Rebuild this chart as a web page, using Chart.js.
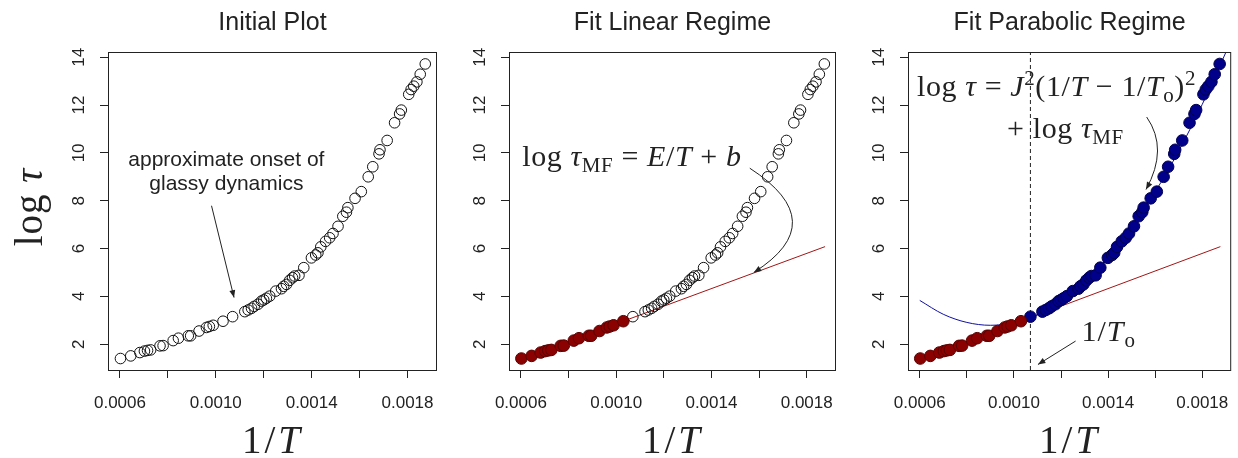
<!DOCTYPE html>
<html>
<head>
<meta charset="utf-8">
<script src="https://cdn.jsdelivr.net/npm/chart.js@4.4.0/dist/chart.umd.min.js"></script>
<style>
  html, body { margin: 0; padding: 0; background: #fff; }
  #wrap { position: relative; width: 1238px; height: 458px; overflow: hidden; }
  canvas { position: absolute; top: 0; }
</style>
</head>
<body>
<div id="wrap">
  <canvas id="c1" width="445" height="458" style="left:0px"></canvas>
  <canvas id="c2" width="400" height="458" style="left:445px"></canvas>
  <canvas id="c3" width="393" height="458" style="left:845px"></canvas>
</div>
<script>
const INV_T = [0.000602, 0.000645, 0.000683, 0.000702, 0.000715, 0.000728, 0.000767, 0.000780, 0.000822, 0.000844,
  0.000885, 0.000895, 0.000930, 0.000961, 0.000973, 0.000989, 0.001030, 0.001070, 0.001121, 0.001135,
  0.001149, 0.001160, 0.001176, 0.001190, 0.001200, 0.001211, 0.001225, 0.001250, 0.001274, 0.001283,
  0.001295, 0.001308, 0.001320, 0.001329, 0.001347, 0.001367, 0.001399, 0.001417, 0.001426, 0.001438,
  0.001458, 0.001475, 0.001489, 0.001510, 0.001530, 0.001545, 0.001551, 0.001581, 0.001607, 0.001636,
  0.001655, 0.001681, 0.001685, 0.001715, 0.001746, 0.001767, 0.001774, 0.001805, 0.001815, 0.001826,
  0.001839, 0.001853, 0.001874];
const LOG_TAU = [1.40, 1.51, 1.65, 1.71, 1.74, 1.76, 1.93, 1.94, 2.15, 2.25,
  2.35, 2.35, 2.55, 2.70, 2.74, 2.79, 2.96, 3.15, 3.36, 3.43,
  3.50, 3.58, 3.67, 3.80, 3.85, 3.92, 4.01, 4.22, 4.32, 4.42,
  4.50, 4.67, 4.78, 4.85, 4.88, 5.20, 5.61, 5.73, 5.82, 6.07,
  6.30, 6.45, 6.63, 6.93, 7.35, 7.52, 7.71, 8.10, 8.38, 9.00,
  9.42, 9.96, 10.13, 10.52, 11.26, 11.63, 11.79, 12.45, 12.65, 12.79,
  12.97, 13.29, 13.72];
const N_LINEAR = 17; // first points used for the linear fit

// fitted curves
const LIN_FIT_X = [0.0006, 0.001877];
const LIN_FIT_Y = [1.38, 6.08];
const PARA_X = [0.0006, 0.0007, 0.0008, 0.0009, 0.0010, 0.0011, 0.0012, 0.0013, 0.0014, 0.0015, 0.0016, 0.0017, 0.0018, 0.0019, 0.00192];
const PARA_Y = [3.83, 3.25, 2.91, 2.79, 2.90, 3.24, 3.80, 4.60, 5.63, 6.88, 8.37, 10.08, 12.03, 14.20, 14.66];
const T0_INV = 0.00107;

const X_TICK_LABELS = ['0.0006', '0.0010', '0.0014', '0.0018'];
const PANEL_TITLES = ['Initial Plot', 'Fit Linear Regime', 'Fit Parabolic Regime'];

const X_MIN = 0.00055, X_MAX = 0.001923;
const Y_MIN = 0.92, Y_MAX = 14.22;
const SANS = '"Liberation Sans", Arial, sans-serif';
const SERIF = '"Liberation Serif", "Times New Roman", serif';
const INK = '#222';
const RED = '#8B0000', BLUE = '#00008B';

const xy = (xs, ys) => xs.map((x, i) => ({ x, y: ys[i] }));
const pts = (from, to) => xy(INV_T.slice(from, to), LOG_TAU.slice(from, to));

function segFont(st, size) {
  const s = (st === 'sub' || st === 'sup') ? size * 0.7 : size;
  return (st === 'i' ? 'italic ' : '') + s + 'px ' + SERIF;
}

// mixed roman / italic / sub / sup text, centred on cx, baseline by
function richText(ctx, segs, cx, by, size, spacing) {
  ctx.textAlign = 'left';
  ctx.textBaseline = 'alphabetic';
  ctx.letterSpacing = (spacing || 0) + 'px';
  const ws = segs.map(([t, st]) => { ctx.font = segFont(st, size); return ctx.measureText(t).width; });
  let x = cx - ws.reduce((a, b) => a + b, 0) / 2;
  segs.forEach(([t, st], i) => {
    ctx.font = segFont(st, size);
    const dy = st === 'sub' ? size * 0.2 : st === 'sup' ? -size * 0.38 : 0;
    ctx.fillText(t, x, by + dy);
    x += ws[i];
  });
  ctx.letterSpacing = '0px';
}

function head(ctx, fx, fy, tx, ty) {
  const a = Math.atan2(ty - fy, tx - fx), L = 8, W = 0.38;
  ctx.beginPath();
  ctx.moveTo(tx, ty);
  ctx.lineTo(tx - L * Math.cos(a - W), ty - L * Math.sin(a - W));
  ctx.lineTo(tx - L * Math.cos(a + W), ty - L * Math.sin(a + W));
  ctx.closePath();
  ctx.fill();
}

function arrow(ctx, p, q) {
  ctx.beginPath();
  ctx.moveTo(p[0], p[1]);
  ctx.lineTo(q[0], q[1]);
  ctx.stroke();
  head(ctx, p[0], p[1], q[0], q[1]);
}

// curved arrow through a middle point m
function curvedArrow(ctx, p, m, q) {
  const c = [2 * m[0] - (p[0] + q[0]) / 2, 2 * m[1] - (p[1] + q[1]) / 2];
  ctx.beginPath();
  ctx.moveTo(p[0], p[1]);
  ctx.quadraticCurveTo(c[0], c[1], q[0], q[1]);
  ctx.stroke();
  head(ctx, c[0], c[1], q[0], q[1]);
}

const toPx = (chart, x, y) => [chart.scales.x.getPixelForValue(x), chart.scales.y.getPixelForValue(y)];

// box, tick labels (y rotated, R style) and axis titles
const framePlugin = {
  id: 'frame',
  afterDraw(chart, args, opts) {
    const { ctx, chartArea: a, scales } = chart;
    ctx.save();
    ctx.strokeStyle = INK;
    ctx.lineWidth = 1;
    ctx.strokeRect(a.left + 0.5, a.top + 0.5, a.right - a.left - 1, a.bottom - a.top);

    ctx.fillStyle = INK;
    ctx.font = '17px ' + SANS;
    ctx.textAlign = 'center';
    ctx.textBaseline = 'middle';
    scales.x.ticks.forEach(t => {
      const s = t.value.toFixed(4);
      if (X_TICK_LABELS.includes(s)) ctx.fillText(s, scales.x.getPixelForValue(t.value), a.bottom + 33);
    });
    scales.y.ticks.forEach(t => {
      ctx.save();
      ctx.translate(a.left - 29, scales.y.getPixelForValue(t.value));
      ctx.rotate(-Math.PI / 2);
      ctx.fillText(String(t.value), 0, 0);
      ctx.restore();
    });

    richText(ctx, [['1/', ''], ['T', 'i']], (a.left + a.right) / 2, 453, 39, 3);

    if (opts.yTitle) {
      ctx.save();
      ctx.translate(42, (a.top + a.bottom) / 2 - 4);
      ctx.rotate(-Math.PI / 2);
      richText(ctx, [['log ', ''], ['τ', 'i']], 0, 0, 39, 1);
      ctx.restore();
    }
    if (opts.notes) opts.notes(chart, ctx);
    ctx.restore();
  }
};

function scales(yWidth) {
  return {
    x: {
      type: 'linear', position: 'bottom', min: X_MIN, max: X_MAX,
      ticks: { stepSize: 0.0002, includeBounds: false, display: false },
      grid: { drawOnChartArea: false, tickLength: 8, color: INK, lineWidth: 1 },
      border: { display: false },
      afterFit: s => { s.height = 88; }
    },
    y: {
      type: 'linear', position: 'left', min: Y_MIN, max: Y_MAX,
      ticks: { stepSize: 2, includeBounds: false, display: false },
      grid: { drawOnChartArea: false, tickLength: 8, color: INK, lineWidth: 1 },
      border: { display: false },
      afterFit: s => { s.width = yWidth; }
    }
  };
}

const hollow = data => ({
  type: 'scatter', data, order: 0, showLine: false,
  pointRadius: 5.3, pointBorderWidth: 1, pointBorderColor: '#111', pointBackgroundColor: 'rgba(0,0,0,0)'
});
const filled = (data, fill, edge) => ({
  type: 'scatter', data, order: 0, showLine: false,
  pointRadius: 5.8, pointBorderWidth: 1, pointBorderColor: edge, pointBackgroundColor: fill
});
const line = (data, color, extra) => Object.assign({
  type: 'line', data, order: 1, showLine: true, pointRadius: 0, borderColor: color, borderWidth: 1, fill: false
}, extra || {});

function makeChart(id, idx, yWidth, padRight, datasets, frameOpts) {
  return new Chart(document.getElementById(id), {
    type: 'scatter',
    data: { datasets },
    options: {
      responsive: false,
      animation: false,
      layout: { padding: { left: 0, right: padRight, top: 0, bottom: 0 } },
      scales: scales(yWidth),
      plugins: {
        legend: { display: false },
        tooltip: { enabled: false },
        title: {
          display: true, text: PANEL_TITLES[idx], fullSize: false, color: INK,
          font: { family: SANS, size: 25, weight: 'normal' },
          padding: { top: 8, bottom: 14 }
        },
        frame: frameOpts
      }
    },
    plugins: [framePlugin]
  });
}

// Initial Plot
makeChart('c1', 0, 108, 8, [hollow(pts(0, INV_T.length))], {
  yTitle: true,
  notes(chart, ctx) {
    ctx.font = '21px ' + SANS;
    ctx.textAlign = 'center';
    ctx.textBaseline = 'middle';
    let p = toPx(chart, 0.001044, 9.71);
    ctx.fillText('approximate onset of', p[0], p[1]);
    p = toPx(chart, 0.001044, 8.71);
    ctx.fillText('glassy dynamics', p[0], p[1]);
    arrow(ctx, toPx(chart, 0.000982, 7.79), toPx(chart, 0.001076, 3.95));
  }
});

// Fit Linear Regime
makeChart('c2', 1, 64, 9, [
  filled(pts(0, N_LINEAR), RED, '#5a0000'),
  hollow(pts(N_LINEAR, INV_T.length)),
  line(xy(LIN_FIT_X, LIN_FIT_Y), '#a31515')
], {
  notes(chart, ctx) {
    const p = toPx(chart, 0.001066, 9.45);
    richText(ctx, [['log ', ''], ['τ', 'i'], ['MF', 'sub'], [' = ', ''], ['E', 'i'], ['/', ''], ['T', 'i'], [' + ', ''], ['b', 'i']], p[0], p[1], 30, 0.6);
    curvedArrow(ctx, toPx(chart, 0.001561, 9.36), toPx(chart, 0.001740, 7.14), toPx(chart, 0.001578, 5.00));
  }
});

// Fit Parabolic Regime
makeChart('c3', 2, 63, 1, [
  filled(pts(0, N_LINEAR), RED, '#5a0000'),
  filled(pts(N_LINEAR, INV_T.length), BLUE, '#000050'),
  line(xy(LIN_FIT_X, LIN_FIT_Y), '#a31515'),
  line(xy(PARA_X, PARA_Y), '#1010a0', { cubicInterpolationMode: 'monotone' }),
  line([{ x: T0_INV, y: Y_MIN }, { x: T0_INV, y: Y_MAX }], INK, { borderDash: [4, 3] })
], {
  notes(chart, ctx) {
    let p = toPx(chart, 0.001181, 12.38);
    richText(ctx, [['log ', ''], ['τ', 'i'], [' = ', ''], ['J', 'i'], ['2', 'sup'], ['(1/', ''], ['T', 'i'], [' − 1/', ''], ['T', 'i'], ['o', 'sub'], [')', ''], ['2', 'sup']], p[0], p[1], 30, 0.6);
    p = toPx(chart, 0.001219, 10.63);
    richText(ctx, [['+ log ', ''], ['τ', 'i'], ['MF', 'sub']], p[0], p[1], 30, 0.6);
    p = toPx(chart, 0.001403, 2.13);
    richText(ctx, [['1/', ''], ['T', 'i'], ['o', 'sub']], p[0], p[1], 30, 1);
    arrow(ctx, toPx(chart, 0.001262, 2.13), toPx(chart, 0.001102, 1.15));
    curvedArrow(ctx, toPx(chart, 0.001564, 11.50), toPx(chart, 0.001610, 10.08), toPx(chart, 0.001561, 8.47));
  }
});
</script>
</body>
</html>
